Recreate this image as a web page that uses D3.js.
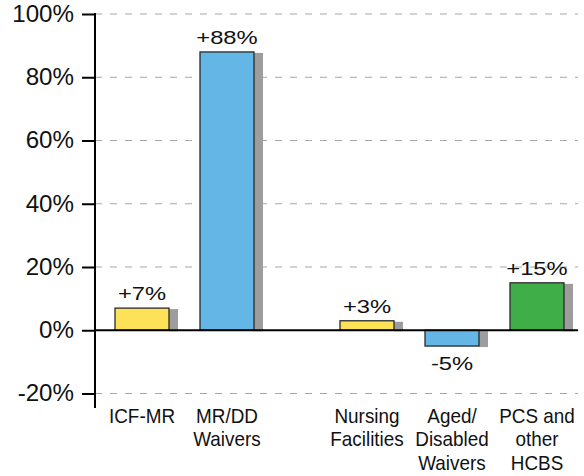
<!DOCTYPE html>
<html>
<head>
<meta charset="utf-8">
<script src="https://cdn.jsdelivr.net/npm/d3@7"></script>
<style>
  body { margin: 0; background: #fff; }
  svg { display: block; font-family: "Liberation Sans", Arial, Helvetica, sans-serif; }
</style>
</head>
<body>
<div id="chart"></div>
<script>
// data
const categories = ["ICF-MR", "MR/DD Waivers", "Nursing Facilities", "Aged/ Disabled Waivers", "PCS and other HCBS"];
const labelLines = [["ICF-MR"], ["MR/DD", "Waivers"], ["Nursing", "Facilities"], ["Aged/", "Disabled", "Waivers"], ["PCS and", "other", "HCBS"]];
const groups = [0, 0, 1, 1, 1];
const values = [7, 88, 3, -5, 15];
const valueLabels = ["+7%", "+88%", "+3%", "-5%", "+15%"];
const barColors = ["#fde157", "#63b6e6", "#fde157", "#63b6e6", "#3fad48"];
const yTicks = [-20, 0, 20, 40, 60, 80, 100];

const width = 584, height = 476;
const axisX = 95, plotRight = 578;

const svg = d3.select("#chart").append("svg")
    .attr("width", width)
    .attr("height", height);

const y = d3.scaleLinear().domain([-20, 100]).range([393.5, 14]);

// band scale for the bars, second group shifted by one bar width
const groupGap = 55;
const bw = 54;
const x = d3.scaleBand()
    .domain(categories)
    .range([115, 115 + 85 * 4 + bw])
    .paddingInner(31 / 85)
    .paddingOuter(0);
const xPos = (d, i) => x(d) + groups[i] * groupGap;

// gridlines
svg.append("g")
    .selectAll("line")
    .data(yTicks.filter(t => t !== 0))
    .join("line")
    .attr("x1", axisX)
    .attr("x2", plotRight)
    .attr("y1", d => y(d))
    .attr("y2", d => y(d))
    .attr("stroke", "#a6a6a6")
    .attr("stroke-width", 1.2)
    .attr("stroke-dasharray", "7,8");

// shadows
svg.append("g")
    .selectAll("rect")
    .data(values)
    .join("rect")
    .attr("x", (d, i) => xPos(categories[i], i) + bw)
    .attr("y", d => Math.min(y(d), y(0)) + 1)
    .attr("width", 9)
    .attr("height", d => Math.abs(y(d) - y(0)))
    .attr("fill", "#9d9d9d");

// bars
svg.append("g")
    .selectAll("rect")
    .data(values)
    .join("rect")
    .attr("x", (d, i) => xPos(categories[i], i))
    .attr("y", d => Math.min(y(d), y(0)))
    .attr("width", bw)
    .attr("height", d => Math.abs(y(d) - y(0)))
    .attr("fill", (d, i) => barColors[i])
    .attr("stroke", "#2a2a2a")
    .attr("stroke-width", 1.3);

// zero line
svg.append("line")
    .attr("x1", axisX)
    .attr("x2", plotRight)
    .attr("y1", y(0))
    .attr("y2", y(0))
    .attr("stroke", "#000")
    .attr("stroke-width", 2);

// y axis
const tickScale = 1.05;
const yAxis = d3.axisLeft(y)
    .tickValues(yTicks)
    .tickFormat(d => d + "%")
    .tickSize(13)
    .tickPadding(8);

const ya = svg.append("g")
    .attr("transform", `translate(${axisX},0)`)
    .call(yAxis);
ya.select(".domain").remove();
ya.selectAll(".tick line").attr("stroke", "#000").attr("stroke-width", 2);
ya.selectAll(".tick text")
    .attr("fill", "#111")
    .attr("x", -21 / tickScale)
    .attr("transform", `scale(${tickScale},1)`)
    .style("font-size", "23px")
    .style("font-family", "'Liberation Sans', Arial, sans-serif");

svg.append("line")
    .attr("x1", axisX)
    .attr("x2", axisX)
    .attr("y1", 13)
    .attr("y2", 408)
    .attr("stroke", "#000")
    .attr("stroke-width", 2);

// value labels
svg.append("g")
    .selectAll("text")
    .data(values)
    .join("text")
    .attr("transform", (d, i) => {
        const cx = xPos(categories[i], i) + bw / 2;
        const cy = d >= 0 ? y(d) - 8 : y(d) + 24;
        return `translate(${cx},${cy}) scale(1.25,1)`;
    })
    .attr("text-anchor", "middle")
    .attr("fill", "#111")
    .style("font-size", "19px")
    .text((d, i) => valueLabels[i]);

// category labels
const cat = svg.append("g")
    .selectAll("text")
    .data(labelLines)
    .join("text")
    .attr("transform", (lines, i) => `translate(${xPos(categories[i], i) + bw / 2},423) scale(0.9,1)`)
    .attr("text-anchor", "middle")
    .attr("fill", "#111")
    .style("font-size", "21px");

cat.selectAll("tspan")
    .data(d => d)
    .join("tspan")
    .attr("x", 0)
    .attr("y", (l, j) => j * 23.5)
    .text(l => l);
</script>
</body>
</html>
